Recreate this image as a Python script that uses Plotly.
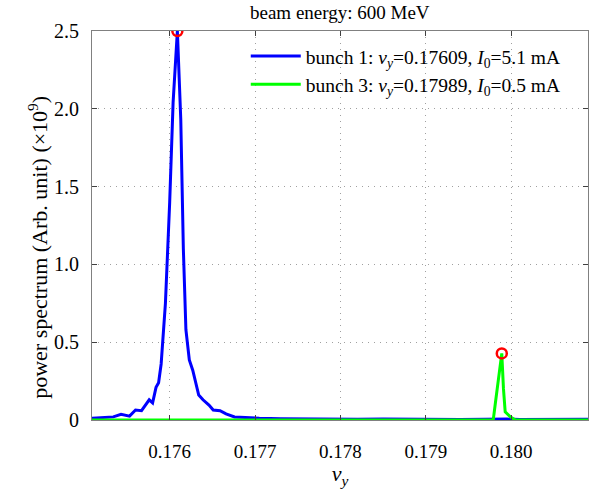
import plotly.graph_objects as go

# bunch 1 spectrum
nu1 = [0.17509, 0.17520, 0.17534, 0.17543, 0.17553, 0.17560, 0.17567, 0.17576, 0.17580,
       0.17584, 0.17587, 0.17590, 0.17595, 0.17600, 0.17604, 0.17609, 0.17613, 0.17616,
       0.17619, 0.17623, 0.17627, 0.17634, 0.17639, 0.17646, 0.17651, 0.17659, 0.17666,
       0.17676, 0.17690, 0.17705, 0.17730, 0.17760, 0.17790, 0.17820, 0.17850, 0.17880,
       0.17910, 0.17940, 0.17970, 0.17985, 0.17995, 0.18010, 0.18040, 0.18070, 0.18090]
p1 = [0.011, 0.014, 0.020, 0.037, 0.025, 0.064, 0.060, 0.130, 0.110,
      0.210, 0.240, 0.360, 0.750, 1.400, 2.040, 2.500, 1.930, 1.100,
      0.580, 0.386, 0.320, 0.160, 0.130, 0.096, 0.064, 0.060, 0.039,
      0.020, 0.015, 0.011, 0.008, 0.006, 0.007, 0.005, 0.006, 0.004,
      0.005, 0.004, 0.005, 0.008, 0.006, 0.004, 0.005, 0.006, 0.005]

# bunch 3 spectrum
nu3 = [0.17509, 0.17979, 0.17982, 0.17987, 0.17989, 0.17991, 0.17993, 0.17999, 0.18005, 0.18090]
p3 = [0.0, 0.0, 0.13, 0.34, 0.428, 0.20, 0.053, 0.020, 0.0, 0.0]

peak_nu = [0.17609, 0.17989]
peak_p = [2.50, 0.428]

xticks = [0.176, 0.177, 0.178, 0.179, 0.180]
xticktext = ["0.176", "0.177", "0.178", "0.179", "0.180"]
yticks = [0, 0.5, 1.0, 1.5, 2.0, 2.5]
yticktext = ["0", "0.5", "1.0", "1.5", "2.0", "2.5"]

font = "Liberation Serif, Times New Roman, serif"

fig = go.Figure()
fig.add_trace(go.Scatter(x=nu1, y=p1, mode="lines", line=dict(color="#0000ff", width=3),
                         name="bunch 1: <i>ν<sub>y</sub></i>=0.17609, <i>I</i><sub>0</sub>=5.1 mA"))
fig.add_trace(go.Scatter(x=nu3, y=p3, mode="lines", line=dict(color="#00ff00", width=3),
                         name="bunch 3: <i>ν<sub>y</sub></i>=0.17989, <i>I</i><sub>0</sub>=0.5 mA"))
fig.add_trace(go.Scatter(x=peak_nu, y=peak_p, mode="markers", showlegend=False,
                         marker=dict(symbol="circle-open", size=10, color="#ff0000",
                                     line=dict(width=2.5, color="#ff0000"))))

axis_common = dict(showline=True, linecolor="#808080", linewidth=1, mirror="ticks",
                   ticks="inside", ticklen=5, tickcolor="#404040",
                   showgrid=True, gridcolor="#a0a0a0", griddash="1px,5px", gridwidth=1,
                   zeroline=False)

fig.update_layout(
    width=593, height=489,
    margin=dict(l=92, r=5, t=31, b=69),
    paper_bgcolor="white", plot_bgcolor="white",
    font=dict(family=font, size=18, color="black"),
    title=dict(text="beam energy: 600 MeV", x=0.573, xanchor="center", y=0.975, yanchor="middle",
               font=dict(family=font, size=19, color="black")),
    xaxis=dict(range=[0.17509, 0.18090], tickvals=xticks, ticktext=xticktext,
               tickfont=dict(family=font, size=19, color="black"), ticklabelstandoff=14,
               title=dict(text="<i>ν<sub>y</sub></i>", font=dict(family=font, size=22), standoff=2),
               **axis_common),
    yaxis=dict(range=[0, 2.5], tickvals=yticks, ticktext=yticktext,
               tickfont=dict(family=font, size=20, color="black"), ticklabelstandoff=8,
               **axis_common),
    legend=dict(x=0.31, y=0.985, xanchor="left", yanchor="top", bgcolor="rgba(0,0,0,0)",
                font=dict(family=font, size=19.5), tracegroupgap=0, itemwidth=50),
    showlegend=True,
    annotations=[dict(text="power spectrum (Arb. unit) (×10<sup>9</sup>)",
                      xref="paper", yref="paper", x=-0.109, y=0.445,
                      xanchor="center", yanchor="middle", textangle=-90, showarrow=False,
                      font=dict(family=font, size=22, color="black"))],
)

fig.write_html("out.html")
